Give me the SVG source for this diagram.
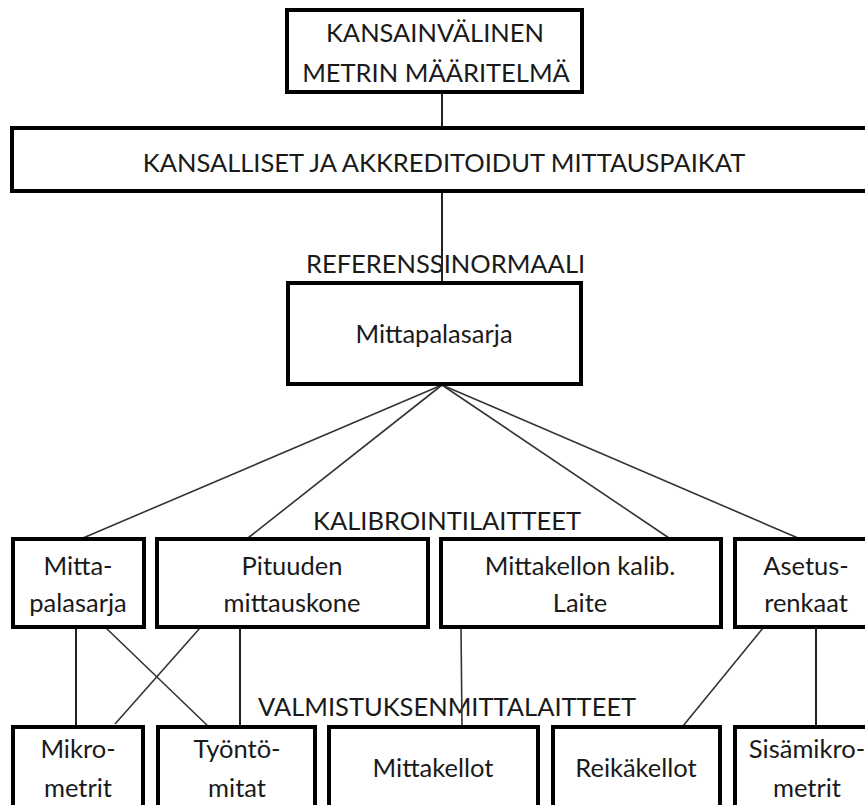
<svg xmlns="http://www.w3.org/2000/svg" width="865" height="805" viewBox="0 0 865 805">
<style>
.box{fill:#fff;stroke:#000;stroke-width:4}
.t{font-family:Lato,"Liberation Sans",sans-serif;font-size:25.5px;fill:#1a1a1a;text-anchor:middle}
.lbl{font-family:Lato,"Liberation Sans",sans-serif;font-size:25.5px;fill:#1a1a1a}
.c{stroke:#222;stroke-width:2;fill:none}
.d{stroke:#333;stroke-width:1.6;fill:none}
</style>
<rect width="865" height="805" fill="#fff"/>
<g id="labels">
<text class="lbl" x="306" y="273">REFERENSSINORMAALI</text>
<text class="lbl" x="313" y="530">KALIBROINTILAITTEET</text>
<text class="lbl" x="258" y="716">VALMISTUKSENMITTALAITTEET</text>
</g>
<g id="connectors">
<line class="c" x1="442" y1="92" x2="442" y2="128"/>
<line class="c" x1="442" y1="191" x2="442" y2="283"/>
<line class="d" x1="442" y1="385" x2="83" y2="538"/>
<line class="d" x1="442" y1="385" x2="248" y2="538"/>
<line class="d" x1="442" y1="385" x2="669" y2="538"/>
<line class="d" x1="442" y1="385" x2="798" y2="538"/>
<line class="c" x1="76" y1="627" x2="76" y2="726"/>
<line class="d" x1="106" y1="628" x2="210" y2="728"/>
<line class="d" x1="200" y1="628" x2="115" y2="724"/>
<line class="c" x1="240" y1="627" x2="240" y2="731"/>
<line class="d" x1="461" y1="627" x2="462" y2="726"/>
<line class="d" x1="763" y1="628" x2="683" y2="726"/>
<line class="c" x1="816" y1="627" x2="816" y2="726"/>
</g>
<g id="n-metri">
<rect class="box" x="287" y="10" width="295" height="82"/>
<text class="t" x="435" y="42">KANSAINVÄLINEN</text>
<text class="t" x="436" y="82">METRIN MÄÄRITELMÄ</text>
</g>
<g id="n-kansalliset">
<rect class="box" x="12" y="128" width="870" height="63"/>
<text class="t" x="444" y="172">KANSALLISET JA AKKREDITOIDUT MITTAUSPAIKAT</text>
</g>
<g id="n-referenssi">
<rect class="box" x="288" y="283" width="293" height="101"/>
<text class="t" x="434" y="343">Mittapalasarja</text>
</g>
<g id="n-mittapalasarja">
<rect class="box" x="13" y="539" width="131" height="88"/>
<text class="t" x="78" y="575">Mitta-</text>
<text class="t" x="78" y="612">palasarja</text>
</g>
<g id="n-pituuden">
<rect class="box" x="157" y="539" width="271" height="88"/>
<text class="t" x="292" y="575">Pituuden</text>
<text class="t" x="292" y="612">mittauskone</text>
</g>
<g id="n-mittakellon">
<rect class="box" x="441" y="539" width="280" height="88"/>
<text class="t" x="580" y="575">Mittakellon kalib.</text>
<text class="t" x="580" y="612">Laite</text>
</g>
<g id="n-asetus">
<rect class="box" x="735" y="539" width="150" height="88"/>
<text class="t" x="806" y="575">Asetus-</text>
<text class="t" x="806" y="612">renkaat</text>
</g>
<g id="n-mikro">
<rect class="box" x="13" y="727" width="130" height="95"/>
<text class="t" x="78" y="758">Mikro-</text>
<text class="t" x="78" y="797">metrit</text>
</g>
<g id="n-tyonto">
<rect class="box" x="158" y="727" width="157" height="95"/>
<text class="t" x="237" y="758">Työntö-</text>
<text class="t" x="237" y="797">mitat</text>
</g>
<g id="n-mittakellot">
<rect class="box" x="329" y="727" width="209" height="95"/>
<text class="t" x="433" y="777">Mittakellot</text>
</g>
<g id="n-reika">
<rect class="box" x="553" y="727" width="167" height="95"/>
<text class="t" x="636" y="777">Reikäkellot</text>
</g>
<g id="n-sisamikro">
<rect class="box" x="735" y="727" width="150" height="95"/>
<text class="t" x="807" y="758">Sisämikro-</text>
<text class="t" x="807" y="797">metrit</text>
</g>
</svg>
